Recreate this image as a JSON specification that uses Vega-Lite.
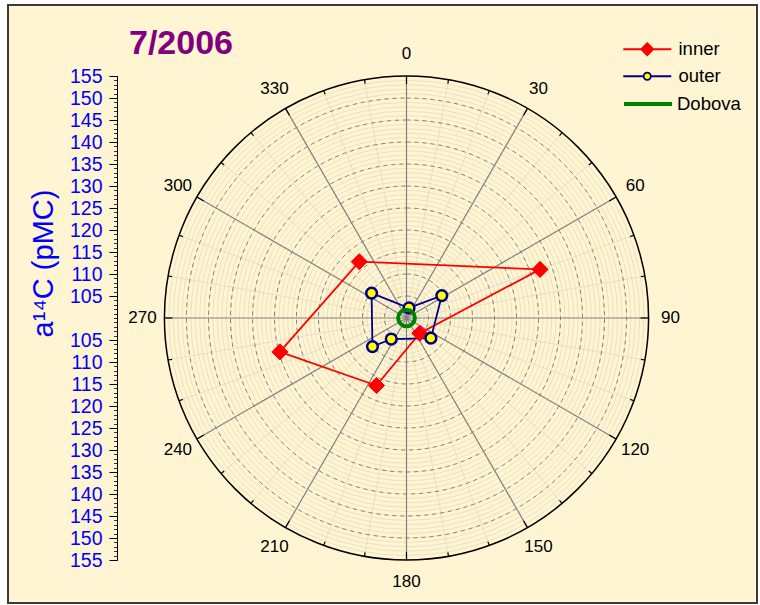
{
  "$schema": "https://vega.github.io/schema/vega-lite/v6.json",
  "width": 749,
  "height": 598,
  "autosize": "none",
  "padding": {"left": 8, "top": 5, "right": 3, "bottom": 2},
  "background": "#ffffff",
  "config": {
    "view": {"fill": "#FFF5D3", "stroke": "#3a3a3a", "strokeWidth": 2},
    "font": "Liberation Sans",
    "legend": {"orient": "none", "padding": 0, "symbolSize": 256, "labelFontSize": 18.5, "labelFont": "Liberation Sans", "labelColor": "#000000", "labelOffset": 22, "symbolOpacity": 1}
  },
  "title": {
    "text": "7/2006", "anchor": "start", "frame": "group", "orient": "top",
    "offset": 0, "dx": 121, "dy": 83, "baseline": "alphabetic",
    "fontSize": 34, "fontWeight": "bold", "color": "#800080", "font": "Liberation Sans"
  },
  "datasets": {
    "rings": [
      {"pmc": 101}, {"pmc": 102}, {"pmc": 103}, {"pmc": 104}, {"pmc": 105},
      {"pmc": 106}, {"pmc": 107}, {"pmc": 108}, {"pmc": 109}, {"pmc": 110},
      {"pmc": 111}, {"pmc": 112}, {"pmc": 113}, {"pmc": 114}, {"pmc": 115},
      {"pmc": 116}, {"pmc": 117}, {"pmc": 118}, {"pmc": 119}, {"pmc": 120},
      {"pmc": 121}, {"pmc": 122}, {"pmc": 123}, {"pmc": 124}, {"pmc": 125},
      {"pmc": 126}, {"pmc": 127}, {"pmc": 128}, {"pmc": 129}, {"pmc": 130},
      {"pmc": 131}, {"pmc": 132}, {"pmc": 133}, {"pmc": 134}, {"pmc": 135},
      {"pmc": 136}, {"pmc": 137}, {"pmc": 138}, {"pmc": 139}, {"pmc": 140},
      {"pmc": 141}, {"pmc": 142}, {"pmc": 143}, {"pmc": 144}, {"pmc": 145},
      {"pmc": 146}, {"pmc": 147}, {"pmc": 148}, {"pmc": 149}, {"pmc": 150},
      {"pmc": 151}, {"pmc": 152}, {"pmc": 153}, {"pmc": 154}, {"pmc": 155}
    ],
    "spokes": [
      {"angle": 0}, {"angle": 10}, {"angle": 20}, {"angle": 30}, {"angle": 40}, {"angle": 50},
      {"angle": 60}, {"angle": 70}, {"angle": 80}, {"angle": 90}, {"angle": 100}, {"angle": 110},
      {"angle": 120}, {"angle": 130}, {"angle": 140}, {"angle": 150}, {"angle": 160}, {"angle": 170},
      {"angle": 180}, {"angle": 190}, {"angle": 200}, {"angle": 210}, {"angle": 220}, {"angle": 230},
      {"angle": 240}, {"angle": 250}, {"angle": 260}, {"angle": 270}, {"angle": 280}, {"angle": 290},
      {"angle": 300}, {"angle": 310}, {"angle": 320}, {"angle": 330}, {"angle": 340}, {"angle": 350}
    ],
    "samples": [
      {"series": "inner", "angle": 70, "pmc": 132.3},
      {"series": "inner", "angle": 139, "pmc": 104.6},
      {"series": "inner", "angle": 204, "pmc": 116.8},
      {"series": "inner", "angle": 255, "pmc": 129.8},
      {"series": "inner", "angle": 320, "pmc": 116.7},
      {"series": "outer", "angle": 14, "pmc": 102.35},
      {"series": "outer", "angle": 57.6, "pmc": 109.5},
      {"series": "outer", "angle": 129.6, "pmc": 107.2},
      {"series": "outer", "angle": 215.9, "pmc": 105.9},
      {"series": "outer", "angle": 230, "pmc": 110.1},
      {"series": "outer", "angle": 305.5, "pmc": 109.75}
    ],
    "dobova": [{"series": "Dobova", "pmc": 101.9}]
  },
  "resolve": {"axis": {"y": "independent"}, "scale": {"color": "independent"}},
  "layer": [
    {
      "data": {"name": "rings"},
      "transform": [{"calculate": "0", "as": "o"}],
      "mark": {"type": "arc", "theta": 0, "theta2": 6.2832, "filled": false, "color": "#E6DCB9", "strokeWidth": 0.8},
      "encoding": {
        "x": {"field": "o", "type": "quantitative", "stack": null, "scale": {"domain": [-55, 55], "range": [156.5, 640.5], "nice": false, "zero": false}, "axis": null},
        "y": {"field": "o", "type": "quantitative", "stack": null, "scale": {"domain": [-55, 55], "range": [555, 71], "nice": false, "zero": false},
          "axis": {"orient": "left", "offset": -109, "values": [-55,-54,-53,-52,-51,-50,-49,-48,-47,-46,-45,-44,-43,-42,-41,-40,-39,-38,-37,-36,-35,-34,-33,-32,-31,-30,-29,-28,-27,-26,-25,-24,-23,-22,-21,-20,-19,-18,-17,-16,-15,-14,-13,-12,-11,-10,-9,-8,-7,-6,-5,-4,-3,-2,-1,0,1,2,3,4,5,6,7,8,9,10,11,12,13,14,15,16,17,18,19,20,21,22,23,24,25,26,27,28,29,30,31,32,33,34,35,36,37,38,39,40,41,42,43,44,45,46,47,48,49,50,51,52,53,54,55],
            "labels": false, "domain": false, "grid": false, "title": null, "tickSize": 3.5, "tickColor": "#000000", "tickWidth": 0.8}},
        "radius": {"field": "pmc", "type": "quantitative", "stack": null, "scale": {"type": "linear", "domain": [100, 155], "range": [0, 242], "zero": false, "nice": false}}
      }
    },
    {
      "data": {"name": "spokes"},
      "transform": [
        {"filter": "datum.angle % 30 != 0"},
        {"calculate": "0", "as": "o"},
        {"calculate": "55 * sin(datum.angle * PI / 180)", "as": "ex"},
        {"calculate": "55 * cos(datum.angle * PI / 180)", "as": "ey"}
      ],
      "mark": {"type": "rule", "color": "#E2DBC4", "strokeWidth": 0.8},
      "encoding": {
        "x": {"field": "o", "type": "quantitative", "scale": {"domain": [-55, 55], "range": [156.5, 640.5], "nice": false, "zero": false}, "axis": null},
        "y": {"field": "o", "type": "quantitative", "scale": {"domain": [-55, 55], "range": [555, 71], "nice": false, "zero": false}, "axis": null},
        "x2": {"field": "ex"},
        "y2": {"field": "ey"}
      }
    },
    {
      "data": {"name": "rings"},
      "transform": [{"filter": "datum.pmc % 5 == 0 && datum.pmc < 155"}, {"calculate": "0", "as": "o"}],
      "mark": {"type": "arc", "theta": 0, "theta2": 6.2832, "filled": false, "color": "#808080", "strokeWidth": 1, "strokeDash": [4, 4]},
      "encoding": {
        "x": {"field": "o", "type": "quantitative", "stack": null, "scale": {"domain": [-55, 55], "range": [156.5, 640.5], "nice": false, "zero": false}, "axis": null},
        "y": {"field": "o", "type": "quantitative", "stack": null, "scale": {"domain": [-55, 55], "range": [555, 71], "nice": false, "zero": false},
          "axis": {"orient": "left", "offset": -109, "values": [-55,-50,-45,-40,-35,-30,-25,-20,-15,-10,-5,5,10,15,20,25,30,35,40,45,50,55],
            "labelExpr": "100 + abs(datum.value)", "labelColor": "#0000FF", "labelFontSize": 19.5, "labelFont": "Liberation Sans",
            "labelOverlap": false, "labelBound": false, "labelFlush": false, "labelPadding": 7, "labelBaseline": "middle",
            "domain": true, "domainColor": "#000000", "domainWidth": 1, "grid": false,
            "tickSize": 8, "tickColor": "#000000", "tickWidth": 1,
            "title": "a¹⁴C (pMC)", "titleColor": "#0000FF", "titleFontSize": 29, "titleFont": "Liberation Sans", "titleFontWeight": "normal",
            "titleAngle": -90, "titleX": -65, "titleY": 258, "titleAlign": "center", "titleBaseline": "alphabetic"}},
        "radius": {"field": "pmc", "type": "quantitative", "stack": null, "scale": {"type": "linear", "domain": [100, 155], "range": [0, 242], "zero": false, "nice": false}}
      }
    },
    {
      "data": {"name": "spokes"},
      "transform": [
        {"filter": "datum.angle % 30 == 0"},
        {"calculate": "0", "as": "o"},
        {"calculate": "55 * sin(datum.angle * PI / 180)", "as": "ex"},
        {"calculate": "55 * cos(datum.angle * PI / 180)", "as": "ey"}
      ],
      "mark": {"type": "rule", "color": "#808080", "strokeWidth": 1.2},
      "encoding": {
        "x": {"field": "o", "type": "quantitative", "scale": {"domain": [-55, 55], "range": [156.5, 640.5], "nice": false, "zero": false}, "axis": null},
        "y": {"field": "o", "type": "quantitative", "scale": {"domain": [-55, 55], "range": [555, 71], "nice": false, "zero": false}, "axis": null},
        "x2": {"field": "ex"},
        "y2": {"field": "ey"}
      }
    },
    {
      "data": {"name": "rings"},
      "transform": [{"filter": "datum.pmc == 155"}, {"calculate": "0", "as": "o"}],
      "mark": {"type": "arc", "theta": 0, "theta2": 6.2832, "filled": false, "color": "#000000", "strokeWidth": 1.5},
      "encoding": {
        "x": {"field": "o", "type": "quantitative", "stack": null, "scale": {"domain": [-55, 55], "range": [156.5, 640.5], "nice": false, "zero": false}, "axis": null},
        "y": {"field": "o", "type": "quantitative", "stack": null, "scale": {"domain": [-55, 55], "range": [555, 71], "nice": false, "zero": false}, "axis": null},
        "radius": {"field": "pmc", "type": "quantitative", "stack": null, "scale": {"type": "linear", "domain": [100, 155], "range": [0, 242], "zero": false, "nice": false}}
      }
    },
    {
      "data": {"name": "spokes"},
      "transform": [
        {"calculate": "datum.angle % 30 == 0 ? 53.2 : 54.1", "as": "r0"},
        {"calculate": "55 * sin(datum.angle * PI / 180)", "as": "ex"},
        {"calculate": "55 * cos(datum.angle * PI / 180)", "as": "ey"},
        {"calculate": "datum.r0 * sin(datum.angle * PI / 180)", "as": "sx"},
        {"calculate": "datum.r0 * cos(datum.angle * PI / 180)", "as": "sy"}
      ],
      "mark": {"type": "rule", "color": "#000000", "strokeWidth": 1.2},
      "encoding": {
        "x": {"field": "sx", "type": "quantitative", "scale": {"domain": [-55, 55], "range": [156.5, 640.5], "nice": false, "zero": false}, "axis": null},
        "y": {"field": "sy", "type": "quantitative", "scale": {"domain": [-55, 55], "range": [555, 71], "nice": false, "zero": false}, "axis": null},
        "x2": {"field": "ex"},
        "y2": {"field": "ey"}
      }
    },
    {
      "data": {"name": "spokes"},
      "transform": [
        {"filter": "datum.angle % 30 == 0"},
        {"calculate": "60 * sin(datum.angle * PI / 180)", "as": "lx"},
        {"calculate": "60 * cos(datum.angle * PI / 180)", "as": "ly"}
      ],
      "mark": {"type": "text", "fontSize": 17, "font": "Liberation Sans", "color": "#000000", "align": "center", "baseline": "middle"},
      "encoding": {
        "x": {"field": "lx", "type": "quantitative", "scale": {"domain": [-55, 55], "range": [156.5, 640.5], "nice": false, "zero": false}, "axis": null},
        "y": {"field": "ly", "type": "quantitative", "scale": {"domain": [-55, 55], "range": [555, 71], "nice": false, "zero": false}, "axis": null},
        "text": {"field": "angle", "type": "quantitative"}
      }
    },
    {
      "data": {"name": "samples"},
      "transform": [
        {"filter": "datum.series === 'inner'"},
        {"calculate": "(datum.pmc - 100) * sin(datum.angle * PI / 180)", "as": "px"},
        {"calculate": "(datum.pmc - 100) * cos(datum.angle * PI / 180)", "as": "py"}
      ],
      "mark": {"type": "line", "interpolate": "linear-closed", "strokeWidth": 1.8},
      "encoding": {
        "x": {"field": "px", "type": "quantitative", "scale": {"domain": [-55, 55], "range": [156.5, 640.5], "nice": false, "zero": false}, "axis": null},
        "y": {"field": "py", "type": "quantitative", "scale": {"domain": [-55, 55], "range": [555, 71], "nice": false, "zero": false}, "axis": null},
        "order": {"field": "angle", "type": "quantitative"},
        "color": {
          "field": "series", "type": "nominal",
          "scale": {"domain": ["inner"], "range": ["#FF0000"]},
          "legend": {"title": null, "legendX": 630, "legendY": 35, "symbolType": "M-3,0H3M0,-0.75L0.75,0L0,0.75L-0.75,0Z", "symbolFillColor": "#FF0000", "symbolStrokeWidth": 1.8}
        }
      }
    },
    {
      "data": {"name": "samples"},
      "transform": [
        {"filter": "datum.series === 'outer'"},
        {"calculate": "(datum.pmc - 100) * sin(datum.angle * PI / 180)", "as": "px"},
        {"calculate": "(datum.pmc - 100) * cos(datum.angle * PI / 180)", "as": "py"}
      ],
      "mark": {"type": "line", "interpolate": "linear-closed", "strokeWidth": 1.8},
      "encoding": {
        "x": {"field": "px", "type": "quantitative", "scale": {"domain": [-55, 55], "range": [156.5, 640.5], "nice": false, "zero": false}, "axis": null},
        "y": {"field": "py", "type": "quantitative", "scale": {"domain": [-55, 55], "range": [555, 71], "nice": false, "zero": false}, "axis": null},
        "order": {"field": "angle", "type": "quantitative"},
        "color": {
          "field": "series", "type": "nominal",
          "scale": {"domain": ["outer"], "range": ["#000080"]},
          "legend": {"title": null, "legendX": 630, "legendY": 62, "symbolType": "M-3,0H-0.45M0.45,0H3M-0.45,0A0.45,0.45 0 1,0 0.45,0A0.45,0.45 0 1,0 -0.45,0Z", "symbolFillColor": "#FFFF00", "symbolStrokeWidth": 1.8}
        }
      }
    },
    {
      "data": {"name": "samples"},
      "transform": [
        {"filter": "datum.series === 'inner'"},
        {"calculate": "(datum.pmc - 100) * sin(datum.angle * PI / 180)", "as": "px"},
        {"calculate": "(datum.pmc - 100) * cos(datum.angle * PI / 180)", "as": "py"}
      ],
      "mark": {"type": "point", "shape": "diamond", "filled": true, "color": "#FF0000", "stroke": "#FF0000", "strokeWidth": 1, "size": 260, "opacity": 1},
      "encoding": {
        "x": {"field": "px", "type": "quantitative", "scale": {"domain": [-55, 55], "range": [156.5, 640.5], "nice": false, "zero": false}, "axis": null},
        "y": {"field": "py", "type": "quantitative", "scale": {"domain": [-55, 55], "range": [555, 71], "nice": false, "zero": false}, "axis": null}
      }
    },
    {
      "data": {"name": "samples"},
      "transform": [
        {"filter": "datum.series === 'outer'"},
        {"calculate": "(datum.pmc - 100) * sin(datum.angle * PI / 180)", "as": "px"},
        {"calculate": "(datum.pmc - 100) * cos(datum.angle * PI / 180)", "as": "py"}
      ],
      "mark": {"type": "point", "shape": "circle", "filled": true, "fill": "#FFFF00", "stroke": "#000080", "strokeWidth": 2.5, "size": 115, "opacity": 1},
      "encoding": {
        "x": {"field": "px", "type": "quantitative", "scale": {"domain": [-55, 55], "range": [156.5, 640.5], "nice": false, "zero": false}, "axis": null},
        "y": {"field": "py", "type": "quantitative", "scale": {"domain": [-55, 55], "range": [555, 71], "nice": false, "zero": false}, "axis": null}
      }
    },
    {
      "data": {"name": "dobova"},
      "transform": [{"calculate": "0", "as": "o"}],
      "mark": {"type": "arc", "theta": 0, "theta2": 6.2832, "filled": false, "strokeWidth": 4},
      "encoding": {
        "x": {"field": "o", "type": "quantitative", "stack": null, "scale": {"domain": [-55, 55], "range": [156.5, 640.5], "nice": false, "zero": false}, "axis": null},
        "y": {"field": "o", "type": "quantitative", "stack": null, "scale": {"domain": [-55, 55], "range": [555, 71], "nice": false, "zero": false}, "axis": null},
        "radius": {"field": "pmc", "type": "quantitative", "stack": null, "scale": {"type": "linear", "domain": [100, 155], "range": [0, 242], "zero": false, "nice": false}},
        "color": {
          "field": "series", "type": "nominal",
          "scale": {"domain": ["Dobova"], "range": ["#008000"]},
          "legend": {"title": null, "legendX": 630, "legendY": 89, "labelOffset": 19, "symbolType": "M-3,0H3", "symbolStrokeWidth": 4}
        }
      }
    }
  ]
}
